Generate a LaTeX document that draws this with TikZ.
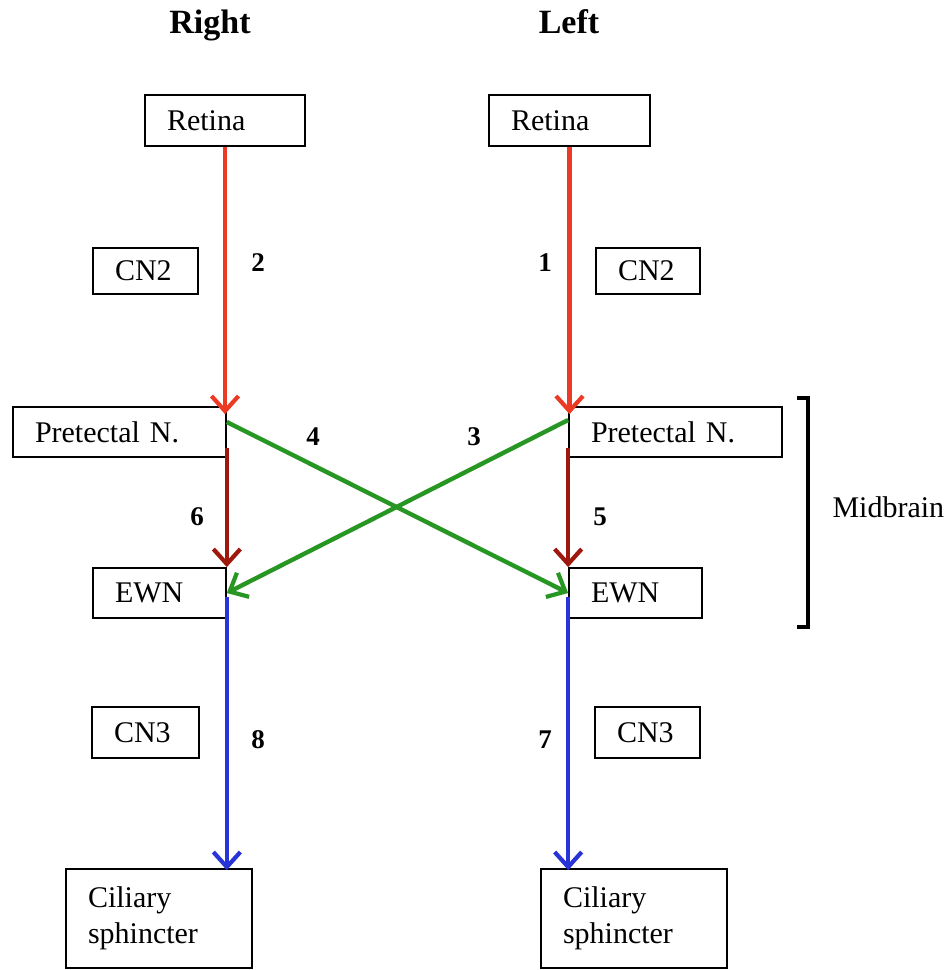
\documentclass[tikz,border=0pt]{standalone}
\usepackage{fontspec}
\setmainfont{Liberation Serif}
\usetikzlibrary{arrows.meta,calc}
\definecolor{cred}{RGB}{236,58,36}
\definecolor{cdark}{RGB}{158,24,14}
\definecolor{cgreen}{RGB}{40,150,35}
\definecolor{cblue}{RGB}{40,52,215}
\begin{document}
\begin{tikzpicture}[x=1pt,y=-1pt,
  box/.style={draw=black, line width=1.7pt, inner xsep=22pt, inner ysep=0pt,
    align=left, font=\fontsize{30}{36}\selectfont, anchor=center},
  num/.style={font=\bfseries\fontsize{27}{30}\selectfont, anchor=base},
  ttl/.style={font=\bfseries\fontsize{34}{38}\selectfont, anchor=base},
  arr/.style={line width=4.4pt, -{Straight Barb[length=15pt,width=27pt,line width=4.2pt]}},
]
\useasboundingbox (0,0) rectangle (946,970);

% titles
\node[ttl] (tR) at (210,33) {Right};
\node[ttl] (tL) at (569,33) {Left};

% boxes
\node[box, text width=116pt, minimum height=51pt] (retR) at (225,120.5) {Retina};
\node[box, text width=117pt, minimum height=51pt] (retL) at (569.5,120.5) {Retina};
\node[box, text width=61pt, minimum height=46pt] (cn2R) at (145.5,271) {CN2};
\node[box, text width=60pt, minimum height=46pt] (cn2L) at (648,271) {CN2};
\node[box, text width=169pt, minimum height=50pt] (preR) at (119.5,432) {Pretectal N.};
\node[box, text width=169pt, minimum height=50pt] (preL) at (675.5,432) {Pretectal N.};
\node[box, text width=89pt, minimum height=50pt] (ewnR) at (159.5,593) {EWN};
\node[box, text width=89pt, minimum height=50pt] (ewnL) at (635.5,593) {EWN};
\node[box, text width=63pt, minimum height=51pt] (cn3R) at (145.5,732.5) {CN3};
\node[box, text width=61pt, minimum height=51pt] (cn3L) at (647.5,732.5) {CN3};
\node[box, text width=142pt, minimum height=99pt] (cilR) at (159,918.5) {Ciliary\\sphincter};
\node[box, text width=142pt, minimum height=99pt] (cilL) at (634,918.5) {Ciliary\\sphincter};

% red arrows
\draw[arr, cred] (retR.south) -- ($(retR.south |- preR.north)+(0,8)$);
\draw[arr, cred] (retL.south) -- ($(retL.south |- preL.north)+(0,8)$);

% dark red arrows
\draw[arr, cdark] ($(preR.south east)+(0,-10)$) -- (ewnR.north east);
\draw[arr, cdark] ($(preL.south west)+(0,-10)$) -- (ewnL.north west);

% green crossing arrows
\draw[arr, cgreen] ($(preR.east)+(0,-10)$) -- (ewnL.west);
\draw[arr, cgreen] ($(preL.west)+(0,-12)$) -- (ewnR.east);

% blue arrows
\draw[arr, cblue] ($(ewnR.east)+(0,4)$) -- ($(ewnR.east |- cilR.north)+(0,2)$);
\draw[arr, cblue] ($(ewnL.west)+(0,4)$) -- ($(ewnL.west |- cilL.north)+(0,2)$);

% numbers
\node[num] (n2) at (258,271) {2};
\node[num] (n1) at (545,271) {1};
\node[num] (n4) at (313,445) {4};
\node[num] (n3) at (474,445) {3};
\node[num] (n6) at (197,525) {6};
\node[num] (n5) at (600,525) {5};
\node[num] (n8) at (258,748) {8};
\node[num] (n7) at (545,748) {7};

% midbrain bracket
\draw[line width=4.5pt, line join=miter] (797,398) -- (808,398) -- (808,627) -- (797,627);
\node[font=\fontsize{30}{36}\selectfont, anchor=base west] (mb) at (829,517) {Midbrain};
\end{tikzpicture}
\end{document}
